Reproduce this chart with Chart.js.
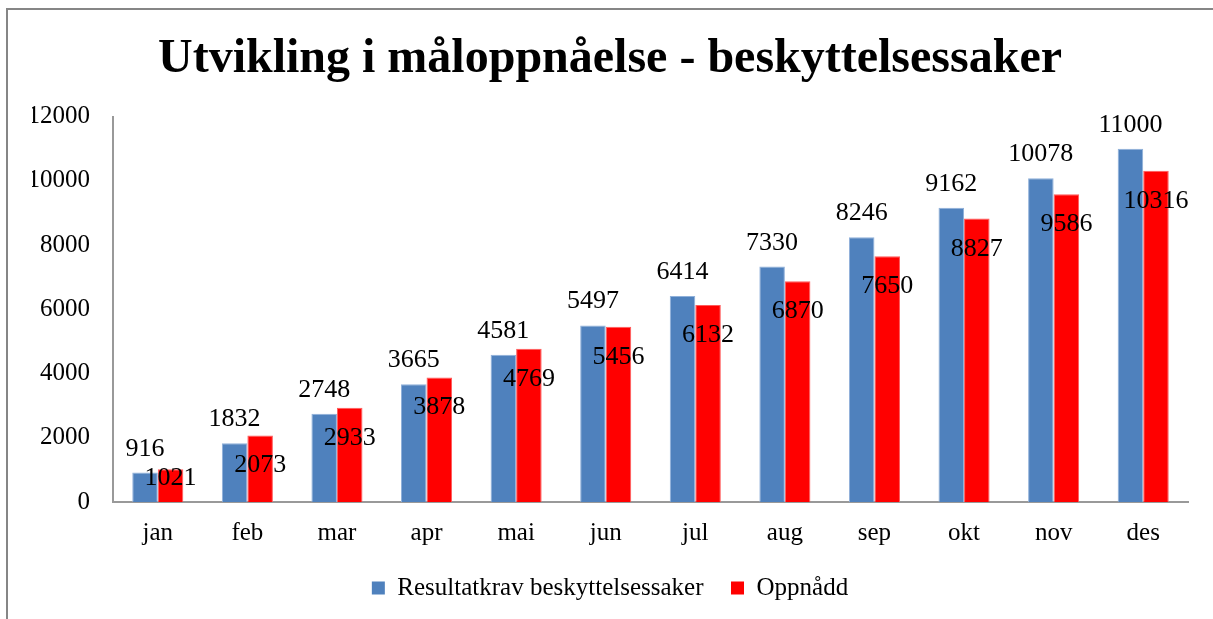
<!DOCTYPE html>
<html>
<head>
<meta charset="utf-8">
<script src="https://cdn.jsdelivr.net/npm/chart.js@4"></script>
<style>
  body { margin: 0; background: #fff; overflow: hidden; }
  #wrap { position: relative; width: 1213px; height: 619px; }
  #frame {
    position: absolute; left: 6px; top: 8px; width: 1220px; height: 640px;
    border-left: 2px solid #868686; border-top: 2px solid #868686;
  }
  canvas { position: absolute; left: 0; top: 0; }
</style>
</head>
<body>
<div id="wrap">
  <div id="frame"></div>
  <canvas id="chart" width="1213" height="619"></canvas>
</div>
<script>
/* Chart data. */
const months = ["jan", "feb", "mar", "apr", "mai", "jun", "jul", "aug", "sep", "okt", "nov", "des"]
const resultatkrav = [916, 1832, 2748, 3665, 4581, 5497, 6414, 7330, 8246, 9162, 10078, 11000]
const oppnadd = [1021, 2073, 2933, 3878, 4769, 5456, 6132, 6870, 7650, 8827, 9586, 10316]
const yTicks = [0, 2000, 4000, 6000, 8000, 10000, 12000]

const serif = "'Liberation Serif', 'Times New Roman', serif"

/* Plugin that writes the value labels like Excel does. */
const valueLabels = {
  id: "valueLabels",
  afterDatasetsDraw(chart) {
    const ctx = chart.ctx
    ctx.save()
    ctx.font = "26px " + serif
    ctx.fillStyle = "#000"
    ctx.textAlign = "center"
    ctx.textBaseline = "alphabetic"
    chart.data.datasets.forEach((ds, i) => {
      const meta = chart.getDatasetMeta(i)
      meta.data.forEach((bar, j) => {
        const text = String(ds.data[j])
        if (i == 0) {
          /* Outside end. */
          ctx.fillText(text, bar.x, bar.y - 17)
        } else {
          /* Inside end, kept inside the bar. */
          ctx.fillText(text, bar.x, Math.min(bar.y + 37, bar.base - 17))
        }
      })
    })
    ctx.restore()
  }
}

const ctx = document.getElementById("chart").getContext("2d")
const chart = new Chart(ctx, {
  type: "bar",
  data: {
    labels: months,
    datasets: [{
      label: "Resultatkrav beskyttelsessaker",
      data: resultatkrav,
      backgroundColor: "#4F81BD",
      borderColor: "#8FB0DA",
      borderWidth: 1
    }, {
      label: "Oppnådd",
      data: oppnadd,
      backgroundColor: "#FF0000",
      borderColor: "#FF5A5A",
      borderWidth: 1
    }]
  },
  options: {
    responsive: false,
    animation: false,
    categoryPercentage: 0.57,
    barPercentage: 1,
    layout: {
      padding: { left: 32, right: 25, top: 0, bottom: 8.5 }
    },
    scales: {
      x: {
        afterFit: scale => { scale.height = 46 },
        grid: { display: false, drawTicks: false },
        border: { display: true, color: "#999999", width: 2 },
        ticks: {
          color: "#000",
          padding: 16,
          font: { family: serif, size: 25 }
        }
      },
      y: {
        min: 0,
        max: 12000,
        afterFit: scale => { scale.width = 81 },
        afterBuildTicks: scale => { scale.ticks = yTicks.map(v => ({ value: v })) },
        grid: { display: false, drawTicks: false },
        border: { display: true, color: "#999999", width: 2 },
        ticks: {
          color: "#000",
          padding: 23,
          font: { family: serif, size: 25 },
          callback: value => String(value)
        }
      }
    },
    plugins: {
      title: {
        display: true,
        text: "Utvikling i måloppnåelse - beskyttelsessaker",
        color: "#000",
        padding: { top: 31, bottom: 28 },
        font: { family: serif, size: 48, weight: "bold" }
      },
      legend: {
        display: true,
        position: "bottom",
        labels: {
          color: "#000",
          boxWidth: 13,
          boxHeight: 13,
          padding: 27.5,
          font: { family: serif, size: 25 },
          generateLabels: chart => chart.data.datasets.map((ds, i) => ({
            text: ds.label,
            fillStyle: ds.backgroundColor,
            strokeStyle: ds.backgroundColor,
            lineWidth: 0,
            fontColor: "#000",
            datasetIndex: i
          }))
        }
      },
      tooltip: { enabled: false }
    }
  },
  plugins: [valueLabels]
})
</script>
</body>
</html>
